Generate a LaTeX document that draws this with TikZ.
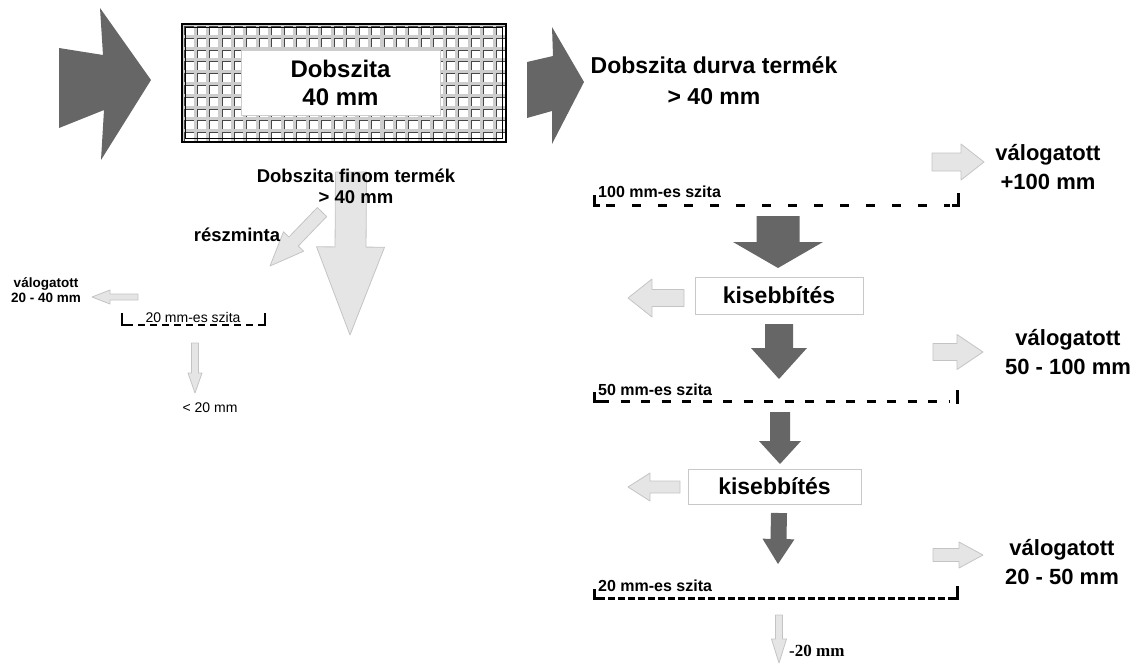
\documentclass[tikz,border=0pt]{standalone}
\usepackage{fontspec}
\setmainfont{Liberation Sans}
\newfontfamily\timesfont{Liberation Serif}
\usetikzlibrary{calc}
\definecolor{arrdark}{RGB}{102,102,102}
\definecolor{arrlight}{RGB}{229,229,229}
\definecolor{arredge}{RGB}{196,196,196}
\definecolor{meshgray}{RGB}{205,205,205}
\definecolor{meshdark}{RGB}{70,70,70}
\definecolor{boxedge}{RGB}{200,200,200}
% block arrow: style, tail, tip, half shaft width, half head width, head length
\newcommand{\blockarrow}[6]{%
  \coordinate (hb) at ($(#3)!#6!(#2)$);
  \path[#1] ($(#2)!#4!90:(#3)$) -- ($(hb)!#4!-90:(#2)$) -- ($(hb)!#5!-90:(#2)$) -- (#3)
    -- ($(hb)!#5!90:(#2)$) -- ($(hb)!#4!90:(#2)$) -- ($(#2)!#4!-90:(#3)$) -- cycle;}
\begin{document}
\begin{tikzpicture}[x=1pt,y=-1pt,
  dark arrow/.style={fill=arrdark},
  light arrow/.style={fill=arrlight,draw=arredge,line width=0.8pt,line join=round},
  big label/.style={font=\bfseries\fontsize{22}{29}\selectfont,align=center,inner sep=0pt},
  mid label/.style={font=\bfseries\fontsize{18.5}{21}\selectfont,align=center,inner sep=0pt},
  small label/.style={font=\bfseries\fontsize{13.5}{15}\selectfont,align=center,inner sep=0pt},
  tiny label/.style={font=\fontsize{14}{16}\selectfont,inner sep=0pt},
  sieve label/.style={font=\bfseries\fontsize{16}{18}\selectfont,inner sep=0pt,anchor=west},
  reduce box/.style={draw=boxedge,line width=1pt,fill=white,font=\bfseries\fontsize{23}{26}\selectfont},
  sieve line/.style={line width=3pt},
  tick/.style={line width=3pt,line cap=rect}]
\useasboundingbox (0,0) rectangle (1145,664);

% drum sieve
\fill[meshgray] (182,24) rectangle (506,142);
\foreach \i in {0,...,25}
  \foreach \j in {0,...,9} {
    \fill[white] ({184.5+\i*12.46},{26.3+\j*11.8}) rectangle +(9,8.5);
    \draw[meshdark,line width=0.7pt] ({184.5+\i*12.46},{34.8+\j*11.8}) -- +(0,-8.5) -- +(9,-8.5);
  }
\node[draw=meshgray,fill=white,line width=1pt,minimum width=199,minimum height=65,
  font=\bfseries\fontsize{24}{28}\selectfont,align=center] (drum) at (340.5,83) {Dobszita\\40 mm};
\draw[line width=2.5pt] (182,24) rectangle (506,142);
\draw[line width=0.8pt] (185.5,27.5) rectangle (502.5,138.5);

% feed and coarse product
\fill[arrdark] (59,48) -- (103,55) -- (100,8) -- (151,80) -- (101,160) -- (104,110) -- (59,128) -- cycle;
\fill[arrdark] (527,62) -- (553,56) -- (552,27) -- (584,82) -- (552,144) -- (552,111) -- (527,118) -- cycle;
\node[big label,font=\bfseries\fontsize{23}{31}\selectfont] (coarse) at (714,81) {Dobszita durva termék\\> 40 mm};

% fine product branch
\coordinate (f1) at (351,172);
\coordinate (f2) at (350,335);
\blockarrow{light arrow}{f1}{f2}{15.5pt}{34pt}{88pt}
\coordinate (p1) at (322,212);
\coordinate (p2) at (270,266);
\blockarrow{light arrow}{p1}{p2}{6.5pt}{14pt}{34pt}
\node[mid label] (fine) at (356,186) {Dobszita finom termék\\> 40 mm};
\node[mid label] (part) at (237,235) {részminta};

\coordinate (q1) at (138,297);
\coordinate (q2) at (92,297);
\blockarrow{light arrow}{q1}{q2}{3pt}{7pt}{18pt}
\node[small label] (sel2040) at (46,290) {válogatott\\20 - 40 mm};
\node[tiny label] (sieve20a) at (193,317) {20 mm-es szita};
\draw[sieve line,line width=2.5pt,dash pattern=on 7pt off 5pt] (126,325) -- (262,325);
\draw[tick,line width=2.5pt] (122,314) -- (122,325) -- (127,325);
\draw[tick,line width=2.5pt] (265,314) -- (265,325) -- (260,325);
\coordinate (r1) at (195,343);
\coordinate (r2) at (195,393);
\blockarrow{light arrow}{r1}{r2}{3.5pt}{7pt}{20pt}
\node[tiny label] (under20a) at (210,408) {< 20 mm};

% 100 mm sieve
\node[sieve label] (s100) at (598,192) {100 mm-es szita};
\draw[sieve line,dash pattern=on 9pt off 17pt] (606,205) -- (950,205);
\draw[tick] (594,196) -- (594,205) -- (598,205);
\draw[tick] (958,194) -- (958,205) -- (953,205);
\coordinate (a1) at (932,162);
\coordinate (a2) at (984,162);
\blockarrow{light arrow}{a1}{a2}{9pt}{18pt}{23pt}
\node[big label] (v100) at (1048,167) {válogatott\\+100 mm};

\coordinate (d1) at (778,216);
\coordinate (d2) at (778,268);
\blockarrow{dark arrow}{d1}{d2}{21.5pt}{45pt}{26pt}
\node[reduce box,minimum width=168,minimum height=37] (k1) at (779,295.5) {kisebbítés};
\coordinate (b1) at (684,298);
\coordinate (b2) at (628,298);
\blockarrow{light arrow}{b1}{b2}{8.5pt}{19pt}{24pt}

% 50 mm sieve
\coordinate (d3) at (779,324);
\coordinate (d4) at (779,379);
\blockarrow{dark arrow}{d3}{d4}{14pt}{28pt}{31pt}
\coordinate (a3) at (933,352);
\coordinate (a4) at (983,352);
\blockarrow{light arrow}{a3}{a4}{8.5pt}{17.5pt}{26pt}
\node[big label] (v50) at (1068,352) {válogatott\\50 - 100 mm};
\node[sieve label] (s50) at (598,390) {50 mm-es szita};
\draw[sieve line,dash pattern=on 9pt off 11.5pt] (600,401) -- (950,401);
\draw[tick] (594,393) -- (594,401) -- (598,401);
\draw[tick] (957,391) -- (957,402);

\coordinate (d5) at (780,412);
\coordinate (d6) at (780,464);
\blockarrow{dark arrow}{d5}{d6}{10pt}{21pt}{23pt}
\node[reduce box,minimum width=173,minimum height=35] (k2) at (774.5,486.5) {kisebbítés};
\coordinate (b3) at (680,487);
\coordinate (b4) at (628,487);
\blockarrow{light arrow}{b3}{b4}{6pt}{14pt}{22pt}

% 20 mm sieve
\coordinate (d7) at (779,513);
\coordinate (d8) at (778,564);
\blockarrow{dark arrow}{d7}{d8}{8pt}{16pt}{25pt}
\coordinate (a5) at (933,555);
\coordinate (a6) at (983,555);
\blockarrow{light arrow}{a5}{a6}{6.5pt}{13pt}{24pt}
\node[big label] (v20) at (1062,562) {válogatott\\20 - 50 mm};
\node[sieve label] (s20) at (598,586) {20 mm-es szita};
\draw[sieve line,dash pattern=on 7pt off 3pt] (598,598) -- (952,598);
\draw[tick] (594,590) -- (594,598) -- (597,598);
\draw[tick] (957,587) -- (957,598) -- (953,598);
\coordinate (e1) at (779,615);
\coordinate (e2) at (779,663);
\blockarrow{light arrow}{e1}{e2}{3.5pt}{7.5pt}{24pt}
\node[anchor=west,inner sep=0pt,font=\timesfont\bfseries\fontsize{17}{20}\selectfont] (under20) at (789,651) {-20 mm};
\end{tikzpicture}
\end{document}
